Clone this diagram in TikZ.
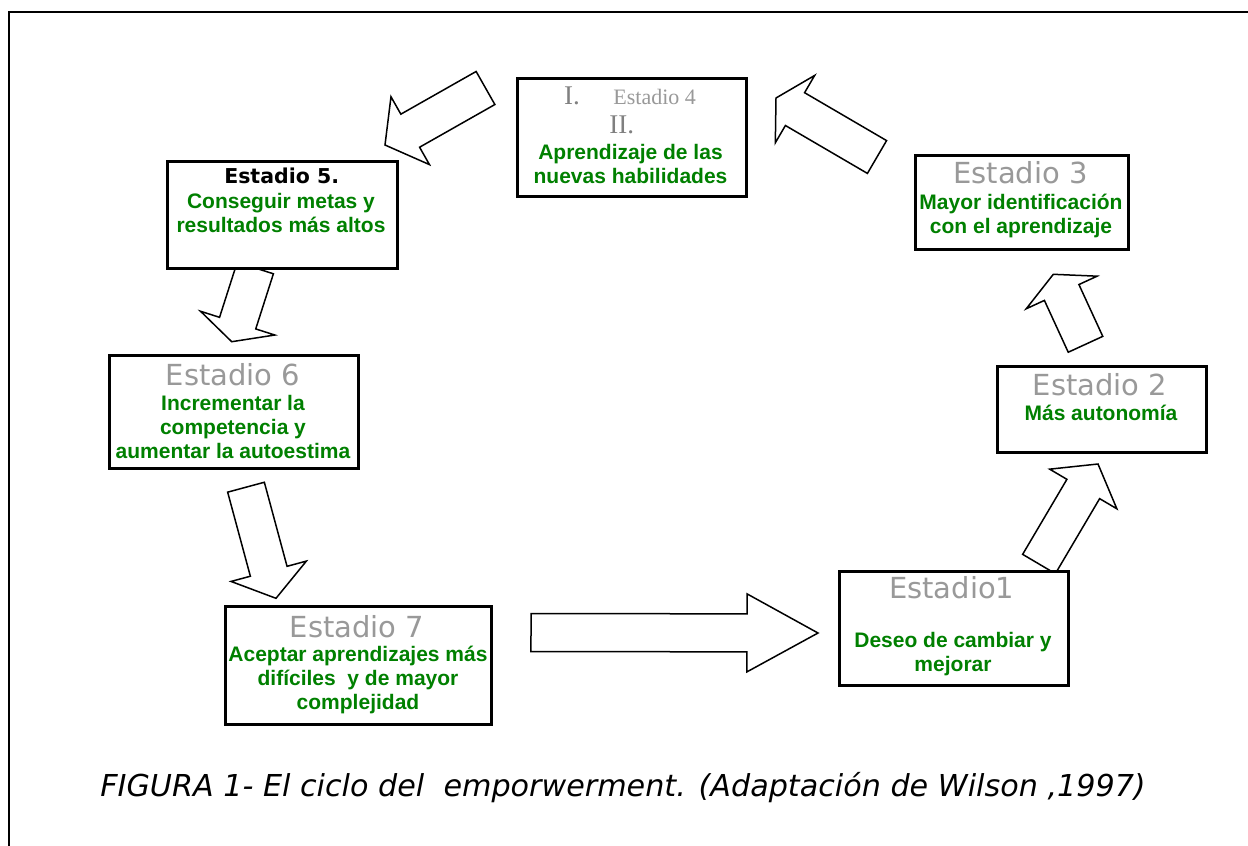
\documentclass[tikz,border=0pt]{standalone}
\usepackage{fontspec}
\usetikzlibrary{calc}
\setmainfont{Liberation Serif}
\newfontfamily\arialf{Liberation Sans}
\newfontfamily\verd{DejaVu Sans}
\definecolor{ofgreen}{RGB}{0,128,0}
\definecolor{ofgray}{RGB}{153,153,153}
\definecolor{romgray}{RGB}{128,128,128}
\newcommand\blockarr[4]{%
  \coordinate (#1h) at ($(#3)!#4!(#2)$);
  \draw[barrow] ($(#2)!19pt!90:(#3)$) -- ($(#1h)!19pt!90:(#3)$) -- ($(#1h)!39pt!90:(#3)$) -- (#3)
     -- ($(#1h)!39pt!-90:(#3)$) -- ($(#1h)!19pt!-90:(#3)$) -- ($(#2)!19pt!-90:(#3)$) -- cycle;
}
\begin{document}
\begin{tikzpicture}[x=1pt,y=-1pt,
  stagebox/.style={draw, line width=3pt, fill=white, inner sep=0pt},
  barrow/.style={draw, line width=1.5pt, fill=white, line join=miter},
  gt/.style={font=\arialf\bfseries\fontsize{21}{24}\selectfont, text=ofgreen, anchor=base, inner sep=0pt},
  ttl/.style={font=\verd\fontsize{29}{31}\selectfont, text=ofgray, anchor=base, inner sep=0pt},
  rom/.style={font=\fontsize{27}{29}\selectfont, text=romgray, anchor=base, inner sep=0pt},
  ]
\useasboundingbox (0,0) rectangle (1248,846);
\fill[white] (0,0) rectangle (1248,846);
\draw[line width=2pt] (9,846) -- (9,12) -- (1248,12);

% arrow end points
\coordinate (aAs) at (531,632.5);  \coordinate (aAt) at (818,633);
\coordinate (aBs) at (1039,564);   \coordinate (aBt) at (1098,464);
\coordinate (aCs) at (1085.5,344.3); \coordinate (aCt) at (1053.3,274.3);
\coordinate (aDs) at (877,157);    \coordinate (aDt) at (776,98);
\coordinate (aEs) at (485.5,88);   \coordinate (aEt) at (385,145);
\coordinate (aFs) at (255.3,268);  \coordinate (aFt) at (231.7,341.7);
\coordinate (aGs) at (246,487.2);  \coordinate (aGt) at (276,598.3);

\blockarr{aA}{aAs}{aAt}{71pt}
\blockarr{aB}{aBs}{aBt}{29pt}
\blockarr{aC}{aCs}{aCt}{20pt}
\blockarr{aD}{aDs}{aDt}{22pt}
\blockarr{aE}{aEs}{aEt}{29pt}
\blockarr{aF}{aFs}{aFt}{19.5pt}
\blockarr{aG}{aGs}{aGt}{28pt}

% boxes
\node[stagebox, minimum width=229pt, minimum height=118pt] (s4) at (631.5,137) {};
\node[stagebox, minimum width=230pt, minimum height=106.5pt] (s5) at (282,214.75) {};
\node[stagebox, minimum width=249pt, minimum height=113pt] (s6) at (233.5,412) {};
\node[stagebox, minimum width=265.5pt, minimum height=117.5pt] (s7) at (358.25,665.25) {};
\node[stagebox, minimum width=229pt, minimum height=113.5pt] (s1) at (953.5,628.25) {};
\node[stagebox, minimum width=208.5pt, minimum height=86pt] (s2) at (1101.75,409.5) {};
\node[stagebox, minimum width=212.5pt, minimum height=94pt] (s3) at (1021.75,202.5) {};

% Estadio 4
\node[rom] (s4i) at (572,104) {I.};
\node[rom, font=\fontsize{22}{24}\selectfont, text=ofgray] (s4e) at (654.7,104) {Estadio 4};
\node[rom] (s4ii) at (621.7,133) {II.};
\node[gt] (s4a) at (630.5,159) {Aprendizaje de las};
\node[gt] (s4b) at (630.5,183) {nuevas habilidades};
% Estadio 5
\node[ttl, font=\verd\bfseries\fontsize{20.5}{24}\selectfont, text=black] (s5t) at (281.7,183.3) {Estadio 5.};
\node[gt] (s5a) at (281,208) {Conseguir metas y};
\node[gt] (s5b) at (281,232) {resultados más altos};
% Estadio 6
\node[ttl] (s6t) at (233,385) {Estadio 6};
\node[gt] (s6a) at (233,410) {Incrementar la};
\node[gt] (s6b) at (233,434) {competencia y};
\node[gt] (s6c) at (233,458) {aumentar la autoestima};
% Estadio 7
\node[ttl] (s7t) at (357,637) {Estadio 7};
\node[gt] (s7a) at (358,661) {Aceptar aprendizajes más};
\node[gt] (s7b) at (358,685) {difíciles\ \ y de mayor};
\node[gt] (s7c) at (358,709) {complejidad};
% Estadio 1
\node[ttl] (s1t) at (951.7,598) {Estadio1};
\node[gt] (s1a) at (953,647) {Deseo de cambiar y};
\node[gt] (s1b) at (953,671) {mejorar};
% Estadio 2
\node[ttl] (s2t) at (1100,395) {Estadio 2};
\node[gt] (s2a) at (1101,420.5) {Más autonomía};
% Estadio 3
\node[ttl] (s3t) at (1020.5,183) {Estadio 3};
\node[gt] (s3a) at (1021,209) {Mayor identificación};
\node[gt] (s3b) at (1021,233) {con el aprendizaje};

% caption
\node[anchor=base, inner sep=0pt, font=\verd\itshape\fontsize{30.2}{32}\selectfont] (cap) at (623,796)
  {FIGURA 1- El ciclo del\ \ emporwerment. (Adaptación de Wilson ,1997)};
\end{tikzpicture}
\end{document}
